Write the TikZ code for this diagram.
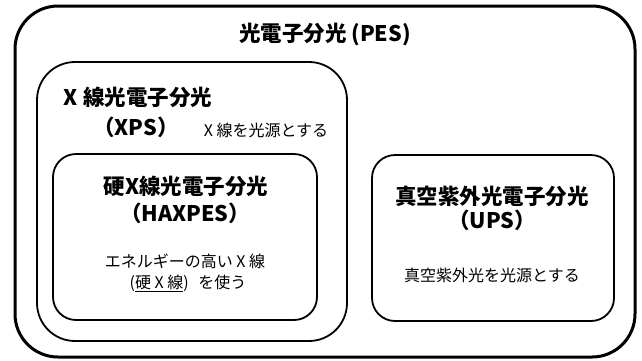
\documentclass[tikz,border=0pt]{standalone}
\usepackage{fontspec}
\setmainfont{Noto Sans CJK JP}
\begin{document}
\begin{tikzpicture}[x=1pt,y=1pt,
  outerbox/.style={draw=black,line width=3pt,rounded corners=43pt},
  midbox/.style={draw=black,line width=1.8pt,rounded corners=38pt},
  innerbox/.style={draw=black,line width=1.8pt,rounded corners=23pt},
  ttl/.style={font=\fontsize{21.5}{26}\selectfont\bfseries,inner sep=0pt,align=center},
  sub/.style={font=\fontsize{16}{22}\selectfont,inner sep=0pt,align=center}]
\useasboundingbox (0,0) rectangle (642,-360);
\draw[outerbox] (15,-6) rectangle (635,-357);
\draw[midbox] (37,-62) rectangle (347,-341);
\draw[innerbox] (53,-154) rectangle (317,-320);
\draw[innerbox] (372,-155) rectangle (614,-321);
\node[ttl] (pes) at (325,-35) {光電子分光 (PES)};
\node[ttl] (xps1) at (138,-97) {X 線光電子分光};
\node[ttl] (xps2) at (136,-127) {（XPS）};
\node[sub] (xpsd) at (266,-130) {X 線を光源とする};
\node[ttl] (hax1) at (186,-186) {硬X線光電子分光};
\node[ttl] (hax2) at (185,-213) {（HAXPES）};
\node[sub] (haxd1) at (185,-261) {エネルギーの高い X 線};
\node[sub] (haxd2) at (188,-283) {(\underline{硬 X 線})\hspace{0.6em}を使う};
\node[ttl] (ups1) at (492,-196) {真空紫外光電子分光};
\node[ttl] (ups2) at (492,-220) {（UPS）};
\node[sub] (upsd) at (492,-275) {真空紫外光を光源とする};
\end{tikzpicture}
\end{document}
